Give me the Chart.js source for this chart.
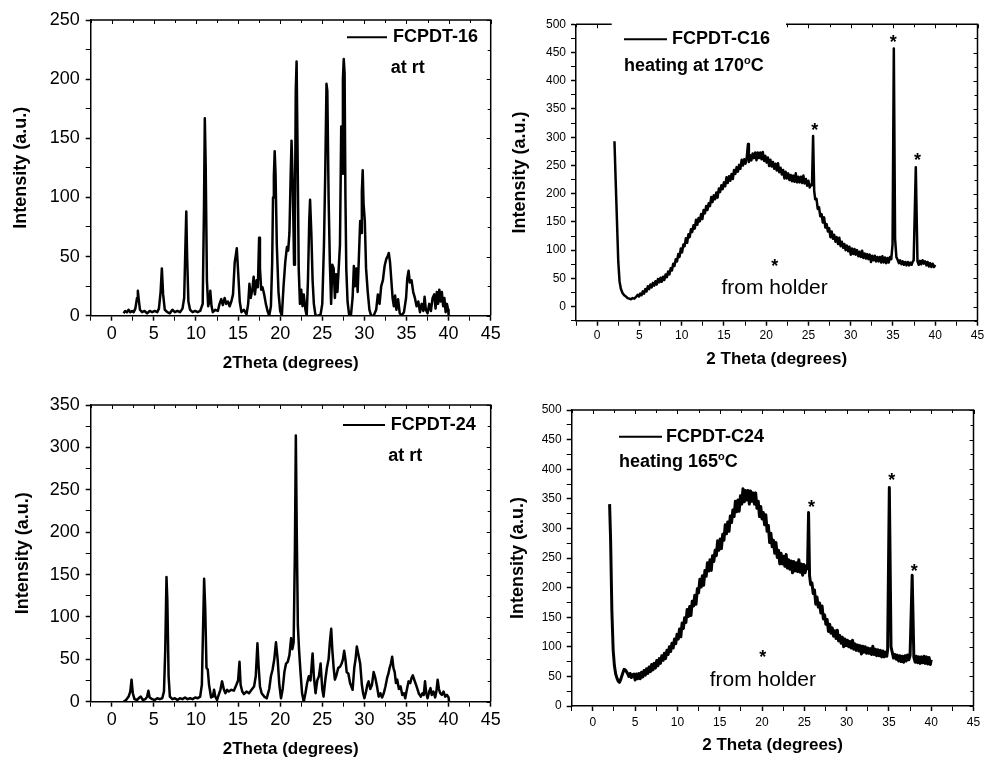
<!DOCTYPE html>
<html>
<head>
<meta charset="utf-8">
<title>XRD patterns of FCPDT-16 and FCPDT-24</title>
<script src="https://cdn.jsdelivr.net/npm/chart.js@4.4.1/dist/chart.umd.min.js"></script>
<style>
  html, body { margin: 0; padding: 0; background: #fff; }
  body { position: relative; width: 987px; height: 763px; overflow: hidden; }
  canvas { position: absolute; }
</style>
</head>
<body>
<canvas id="rt16"></canvas>
<canvas id="hot16"></canvas>
<canvas id="rt24"></canvas>
<canvas id="hot24"></canvas>
<script>
// ─── DATA  (2θ in degrees, intensity in a.u.)
const thetaLabels = [0, 5, 10, 15, 20, 25, 30, 35, 40, 45];
const rt16Labels = [0, 50, 100, 150, 200, 250];
const rt24Labels = [0, 50, 100, 150, 200, 250, 300, 350];
const hotLabels = [0, 50, 100, 150, 200, 250, 300, 350, 400, 450, 500];

// FCPDT-16 at room temperature
const rt16 = [
  [1.4, 2], [1.6, 4], [1.8, 3], [2.0, 5], [2.2, 3], [2.4, 4], [2.6, 3], [2.8, 6],
  [3.0, 15], [3.1, 21], [3.2, 14], [3.35, 5], [3.6, 3], [3.9, 4], [4.2, 2], [4.5, 4],
  [4.8, 3], [5.1, 4], [5.4, 3], [5.6, 6], [5.8, 20], [5.95, 40], [6.1, 18], [6.3, 5],
  [6.6, 3], [6.9, 2], [7.2, 5], [7.5, 3], [7.8, 4], [8.1, 3], [8.4, 6], [8.6, 15],
  [8.75, 60], [8.85, 88], [8.95, 50], [9.1, 12], [9.3, 5], [9.6, 3], [9.9, 4], [10.2, 3],
  [10.5, 4], [10.8, 10], [10.95, 90], [11.05, 167], [11.15, 130], [11.3, 30], [11.45, 8],
  [11.6, 12], [11.7, 21], [11.85, 8], [12.0, 3], [12.3, 5], [12.6, 4], [12.8, 10],
  [13.0, 14], [13.2, 9], [13.4, 15], [13.6, 10], [13.8, 12], [14.0, 8], [14.2, 12],
  [14.4, 18], [14.6, 45], [14.75, 52], [14.85, 57], [15.0, 38], [15.2, 12], [15.4, 3],
  [15.7, 5], [16.0, 1], [16.2, 10], [16.35, 27], [16.5, 15], [16.7, 22], [16.85, 33],
  [17.0, 18], [17.2, 30], [17.35, 24], [17.5, 66], [17.6, 40], [17.75, 22], [17.9, 24],
  [18.1, 18], [18.3, 10], [18.5, 4], [18.7, 0], [18.9, 8], [19.05, 45], [19.15, 100],
  [19.25, 118], [19.35, 139], [19.45, 120], [19.6, 60], [19.8, 20], [20.0, 4], [20.2, 0],
  [20.4, 25], [20.6, 45], [20.8, 58], [20.95, 55], [21.1, 70], [21.25, 120], [21.35, 148],
  [21.5, 110], [21.65, 43], [21.75, 80], [21.85, 190], [21.95, 215], [22.05, 150],
  [22.2, 40], [22.35, 10], [22.5, 22], [22.65, 8], [22.8, 18], [23.0, 5], [23.15, 0],
  [23.3, 30], [23.45, 80], [23.55, 98], [23.7, 70], [23.85, 30], [24.0, 10], [24.2, 0],
  [24.5, 0], [24.8, 1], [25.0, 10], [25.2, 60], [25.35, 120], [25.5, 196], [25.6, 190],
  [25.75, 100], [25.9, 45], [26.05, 10], [26.2, 43], [26.35, 40], [26.5, 15], [26.65, 35],
  [26.8, 20], [26.95, 40], [27.1, 60], [27.25, 160], [27.35, 120], [27.45, 200],
  [27.55, 217], [27.65, 205], [27.75, 100], [27.85, 40], [28.0, 12], [28.2, 0], [28.4, 0],
  [28.6, 15], [28.75, 42], [28.9, 25], [29.05, 40], [29.2, 20], [29.35, 50], [29.5, 80],
  [29.6, 70], [29.7, 105], [29.8, 123], [29.9, 95], [30.05, 80], [30.2, 40], [30.4, 20],
  [30.6, 5], [30.8, 0], [31.1, 0], [31.4, 5], [31.6, 18], [31.8, 10], [32.0, 25],
  [32.2, 30], [32.4, 42], [32.6, 48], [32.75, 50], [32.9, 53], [33.05, 45], [33.2, 30],
  [33.35, 15], [33.5, 8], [33.65, 17], [33.8, 5], [34.0, 14], [34.2, 2], [34.4, 0],
  [34.7, 3], [34.95, 15], [35.1, 32], [35.25, 38], [35.4, 28], [35.6, 30], [35.8, 20],
  [36.0, 15], [36.2, 8], [36.4, 12], [36.6, 3], [36.8, 10], [37.0, 4], [37.15, 16],
  [37.3, 5], [37.5, 2], [37.7, 10], [37.9, 4], [38.1, 15], [38.3, 18], [38.45, 6],
  [38.6, 20], [38.75, 10], [38.9, 22], [39.05, 12], [39.2, 20], [39.35, 8], [39.5, 15],
  [39.65, 3], [39.8, 10], [39.95, 5], [40.0, 0],
];

// FCPDT-C16 heated at 170 °C (the peaks near 25.5, 35.1 and 37.7 come from the holder)
const hot16 = [
  [2.05, 293], [2.2, 220], [2.35, 150], [2.5, 80], [2.65, 45], [2.8, 32], [3.0, 24],
  [3.2, 20], [3.4, 18], [3.6, 15], [3.8, 14], [4.0, 13], [4.2, 15], [4.4, 14], [4.6, 17],
  [4.8, 21], [4.95, 18], [5.1, 23], [5.25, 20], [5.4, 27], [5.55, 23], [5.7, 31], [5.85, 27],
  [6.0, 36], [6.15, 31], [6.3, 39], [6.45, 34], [6.6, 42], [6.75, 37], [6.9, 45], [7.05, 39],
  [7.2, 49], [7.35, 43], [7.5, 51], [7.65, 44], [7.8, 53], [7.95, 47], [8.1, 57], [8.25, 52],
  [8.4, 62], [8.55, 57], [8.7, 68], [8.85, 64], [9.0, 76], [9.15, 72], [9.3, 84], [9.45, 80],
  [9.6, 93], [9.75, 88], [9.9, 103], [10.05, 96], [10.2, 110], [10.35, 107], [10.5, 121],
  [10.65, 113], [10.8, 128], [10.95, 123], [11.1, 137], [11.25, 132], [11.4, 144],
  [11.55, 138], [11.7, 154], [11.85, 145], [12.0, 157], [12.15, 151], [12.3, 164],
  [12.45, 155], [12.6, 171], [12.75, 165], [12.9, 178], [13.05, 171], [13.2, 183],
  [13.35, 178], [13.5, 194], [13.65, 185], [13.8, 197], [13.95, 190], [14.1, 202],
  [14.25, 193], [14.4, 209], [14.55, 203], [14.7, 215], [14.85, 208], [15.0, 220],
  [15.15, 213], [15.3, 229], [15.45, 219], [15.6, 231], [15.75, 223], [15.9, 235],
  [16.05, 226], [16.2, 242], [16.35, 235], [16.5, 247], [16.65, 239], [16.8, 251],
  [16.95, 244], [17.1, 260], [17.25, 250], [17.4, 261], [17.55, 253], [17.7, 264],
  [17.85, 288], [17.95, 256], [18.1, 268], [18.25, 259], [18.4, 271], [18.55, 263],
  [18.7, 273], [18.85, 259], [19.0, 273], [19.15, 263], [19.3, 273], [19.45, 261],
  [19.6, 274], [19.75, 258], [19.9, 267], [20.05, 255], [20.2, 264], [20.35, 249],
  [20.5, 260], [20.65, 248], [20.8, 256], [20.95, 244], [21.1, 253], [21.25, 241],
  [21.4, 254], [21.55, 238], [21.7, 246], [21.85, 234], [22.0, 242], [22.15, 227],
  [22.3, 239], [22.45, 227], [22.6, 236], [22.75, 224], [22.9, 233], [23.05, 222],
  [23.2, 232], [23.35, 221], [23.5, 236], [23.65, 220], [23.8, 230], [23.95, 220],
  [24.1, 230], [24.25, 219], [24.4, 232], [24.55, 218], [24.7, 226], [24.85, 214],
  [25.0, 223], [25.15, 211], [25.3, 216], [25.42, 215], [25.55, 302], [25.68, 205],
  [25.8, 190], [25.95, 191], [26.1, 173], [26.25, 176], [26.4, 160], [26.55, 164],
  [26.7, 149], [26.85, 158], [27.0, 140], [27.15, 146], [27.3, 133], [27.45, 139],
  [27.6, 123], [27.75, 133], [27.9, 120], [28.05, 127], [28.2, 115], [28.35, 123],
  [28.5, 111], [28.65, 122], [28.8, 107], [28.95, 115], [29.1, 104], [29.25, 111],
  [29.4, 100], [29.55, 108], [29.7, 98], [29.85, 106], [30.0, 92], [30.15, 103],
  [30.3, 93], [30.45, 102], [30.6, 92], [30.75, 100], [30.9, 89], [31.05, 97], [31.2, 88],
  [31.35, 99], [31.5, 86], [31.65, 94], [31.8, 85], [31.95, 93], [32.1, 84], [32.25, 92],
  [32.4, 79], [32.55, 90], [32.7, 82], [32.85, 90], [33.0, 80], [33.15, 88], [33.3, 80],
  [33.45, 88], [33.6, 78], [33.75, 89], [33.9, 78], [34.05, 87], [34.2, 77], [34.35, 86],
  [34.5, 78], [34.65, 88], [34.8, 84], [34.95, 110], [35.1, 457], [35.25, 120], [35.4, 88],
  [35.55, 83], [35.7, 77], [35.85, 82], [36.0, 75], [36.15, 80], [36.3, 74], [36.45, 79],
  [36.6, 73], [36.75, 79], [36.9, 73], [37.05, 78], [37.2, 74], [37.35, 80], [37.45, 82],
  [37.7, 247], [37.9, 80], [38.05, 74], [38.2, 81], [38.35, 75], [38.5, 82], [38.65, 76],
  [38.8, 80], [38.95, 73], [39.1, 79], [39.25, 71], [39.4, 77], [39.55, 70], [39.7, 76],
  [39.85, 70], [40.0, 74],
];

// FCPDT-24 at room temperature
const rt24 = [
  [1.4, 0], [1.7, 2], [2.0, 6], [2.2, 12], [2.35, 26], [2.5, 10], [2.7, 3], [3.0, 2],
  [3.3, 5], [3.45, 6], [3.7, 2], [4.0, 3], [4.2, 6], [4.35, 13], [4.5, 5], [4.8, 3],
  [5.1, 2], [5.4, 4], [5.7, 3], [6.0, 4], [6.2, 12], [6.35, 60], [6.5, 147], [6.6, 120],
  [6.75, 30], [6.9, 6], [7.2, 3], [7.5, 4], [7.8, 2], [8.1, 4], [8.4, 3], [8.7, 5],
  [9.0, 3], [9.3, 4], [9.6, 3], [9.9, 5], [10.2, 4], [10.5, 6], [10.7, 20], [10.85, 90],
  [10.97, 145], [11.1, 110], [11.25, 40], [11.4, 38], [11.55, 20], [11.8, 5], [12.0, 6],
  [12.15, 14], [12.3, 6], [12.5, 2], [12.7, 8], [12.9, 14], [13.1, 24], [13.3, 15],
  [13.5, 10], [13.7, 14], [13.9, 12], [14.2, 14], [14.5, 13], [14.8, 20], [15.0, 25],
  [15.17, 47], [15.3, 20], [15.5, 12], [15.7, 9], [16.0, 12], [16.3, 10], [16.6, 14],
  [16.9, 18], [17.1, 30], [17.3, 69], [17.45, 40], [17.6, 18], [17.8, 10], [18.1, 6],
  [18.4, 4], [18.7, 15], [18.9, 30], [19.1, 38], [19.3, 50], [19.5, 70], [19.7, 50],
  [19.9, 20], [20.1, 4], [20.3, 15], [20.5, 35], [20.7, 45], [20.9, 47], [21.1, 55],
  [21.3, 75], [21.45, 62], [21.6, 70], [21.75, 180], [21.86, 314], [21.97, 200], [22.1, 90],
  [22.25, 60], [22.4, 37], [22.6, 10], [22.8, 0], [23.0, 10], [23.2, 22], [23.4, 30],
  [23.6, 25], [23.85, 57], [24.0, 30], [24.2, 10], [24.4, 25], [24.6, 30], [24.8, 45],
  [25.0, 15], [25.15, 6], [25.35, 25], [25.55, 40], [25.75, 50], [25.9, 70], [26.06, 86],
  [26.2, 60], [26.35, 40], [26.5, 26], [26.7, 32], [26.9, 40], [27.1, 41], [27.3, 45],
  [27.45, 50], [27.6, 60], [27.75, 50], [27.9, 35], [28.1, 33], [28.3, 22], [28.45, 18],
  [28.6, 14], [28.8, 40], [28.95, 50], [29.1, 65], [29.3, 55], [29.5, 45], [29.7, 20],
  [29.85, 10], [30.0, 4], [30.2, 12], [30.35, 20], [30.5, 24], [30.7, 15], [30.9, 20],
  [31.1, 35], [31.3, 28], [31.5, 18], [31.7, 6], [31.9, 10], [32.1, 5], [32.3, 10],
  [32.5, 18], [32.7, 28], [32.85, 33], [33.0, 40], [33.15, 45], [33.3, 53], [33.45, 40],
  [33.6, 35], [33.75, 22], [33.9, 26], [34.1, 15], [34.3, 18], [34.5, 8], [34.7, 10],
  [34.85, 4], [35.0, 12], [35.25, 24], [35.45, 22], [35.6, 28], [35.75, 31], [35.95, 25],
  [36.2, 18], [36.45, 10], [36.7, 6], [36.9, 10], [37.05, 8], [37.2, 24], [37.35, 10],
  [37.5, 4], [37.7, 12], [37.85, 16], [38.0, 8], [38.2, 12], [38.4, 5], [38.55, 12],
  [38.7, 26], [38.85, 15], [39.0, 10], [39.2, 8], [39.4, 12], [39.6, 6], [39.8, 8],
  [40.0, 5], [40.05, 0],
];

// FCPDT-C24 heated at 165 °C
const hot24 = [
  [1.98, 341], [2.1, 280], [2.25, 160], [2.4, 95], [2.55, 68], [2.7, 54], [2.85, 47],
  [3.0, 42], [3.15, 40], [3.3, 45], [3.5, 54], [3.7, 62], [3.9, 60], [4.1, 55], [4.25, 50],
  [4.4, 55], [4.55, 48], [4.7, 53], [4.85, 54], [5.0, 44], [5.15, 54], [5.3, 46], [5.45, 55],
  [5.6, 46], [5.75, 57], [5.9, 49], [6.05, 60], [6.2, 52], [6.35, 63], [6.5, 55], [6.65, 66],
  [6.8, 58], [6.95, 70], [7.1, 61], [7.25, 72], [7.4, 64], [7.55, 77], [7.7, 68], [7.85, 80],
  [8.0, 72], [8.15, 85], [8.3, 77], [8.45, 89], [8.6, 80], [8.75, 94], [8.9, 87], [9.05, 100],
  [9.2, 92], [9.35, 106], [9.5, 98], [9.65, 113], [9.8, 105], [9.95, 121], [10.1, 113],
  [10.25, 130], [10.4, 117], [10.55, 140], [10.7, 131], [10.85, 149], [11.0, 141],
  [11.15, 163], [11.3, 151], [11.45, 168], [11.6, 153], [11.75, 177], [11.9, 169],
  [12.05, 187], [12.2, 172], [12.35, 198], [12.5, 191], [12.65, 214], [12.8, 201],
  [12.95, 220], [13.1, 204], [13.25, 229], [13.4, 219], [13.55, 242], [13.7, 228],
  [13.85, 247], [14.0, 229], [14.15, 254], [14.3, 244], [14.45, 263], [14.6, 254],
  [14.75, 279], [14.9, 263], [15.05, 282], [15.2, 266], [15.35, 290], [15.5, 280],
  [15.65, 306], [15.8, 291], [15.95, 311], [16.1, 295], [16.25, 321], [16.4, 310],
  [16.55, 331], [16.7, 320], [16.85, 346], [17.0, 328], [17.15, 348], [17.3, 329],
  [17.45, 355], [17.6, 341], [17.75, 367], [17.9, 345], [18.05, 364], [18.2, 348],
  [18.35, 364], [18.5, 341], [18.65, 363], [18.8, 346], [18.95, 360], [19.1, 341],
  [19.25, 360], [19.4, 334], [19.55, 346], [19.7, 320], [19.85, 337], [20.0, 316],
  [20.15, 327], [20.3, 306], [20.45, 323], [20.6, 295], [20.75, 305], [20.9, 276],
  [21.05, 292], [21.2, 269], [21.35, 280], [21.5, 258], [21.65, 276], [21.8, 251],
  [21.95, 263], [22.1, 240], [22.25, 258], [22.4, 240], [22.55, 253], [22.7, 236],
  [22.85, 256], [23.0, 233], [23.15, 247], [23.3, 231], [23.45, 245], [23.6, 225],
  [23.75, 244], [23.9, 228], [24.05, 242], [24.2, 227], [24.35, 247], [24.5, 226],
  [24.65, 240], [24.8, 221], [24.95, 239], [25.1, 225], [25.25, 237], [25.38, 232],
  [25.5, 327], [25.62, 220], [25.75, 205], [25.9, 208], [26.05, 190], [26.2, 196],
  [26.35, 172], [26.5, 184], [26.65, 167], [26.8, 174], [26.95, 157], [27.1, 169],
  [27.25, 147], [27.4, 154], [27.55, 138], [27.7, 146], [27.85, 126], [28.0, 138],
  [28.15, 123], [28.3, 132], [28.45, 118], [28.6, 127], [28.75, 114], [28.9, 128],
  [29.05, 110], [29.2, 119], [29.35, 106], [29.5, 116], [29.65, 100], [29.8, 113],
  [29.95, 102], [30.1, 111], [30.25, 100], [30.4, 109], [30.55, 98], [30.7, 111],
  [30.85, 96], [31.0, 105], [31.15, 94], [31.3, 103], [31.45, 93], [31.6, 102], [31.75, 88],
  [31.9, 101], [32.05, 91], [32.2, 100], [32.35, 89], [32.5, 98], [32.65, 89], [32.8, 97],
  [32.95, 87], [33.1, 101], [33.25, 87], [33.4, 96], [33.55, 85], [33.7, 95], [33.85, 85],
  [34.0, 94], [34.15, 83], [34.3, 93], [34.45, 83], [34.6, 91], [34.75, 84], [34.85, 95],
  [35.05, 369], [35.25, 100], [35.4, 90], [35.55, 81], [35.7, 87], [35.85, 79], [36.0, 86],
  [36.15, 76], [36.3, 85], [36.45, 75], [36.6, 84], [36.75, 74], [36.9, 85], [37.05, 76],
  [37.2, 86], [37.35, 78], [37.5, 85], [37.75, 221], [37.95, 82], [38.1, 74], [38.25, 84],
  [38.4, 73], [38.55, 83], [38.7, 72], [38.85, 83], [39.0, 73], [39.15, 84], [39.3, 72],
  [39.45, 83], [39.6, 71], [39.75, 82], [39.9, 70], [40.0, 78],
];

const FONT = "'Liberation Sans', Arial, Helvetica, sans-serif";

// ─── PANEL DECORATIONS: closed frame, inner ticks, key line and notes
function panelNotes(notes) {
  return {
    id: "panelNotes",
    afterDatasetsDraw(chart) {
      const { ctx, chartArea: a } = chart;
      const { x, y } = chart.scales;
      ctx.save();

      ctx.strokeStyle = "#000";
      ctx.lineWidth = 1.5;
      ctx.beginPath();
      ctx.moveTo(a.left, a.top);
      ctx.lineTo(a.right, a.top);
      ctx.lineTo(a.right, a.bottom);
      ctx.stroke();

      ctx.lineWidth = 1;
      ctx.beginPath();
      x.ticks.forEach((t) => {
        const px = Math.round(x.getPixelForValue(t.value)) + 0.5;
        const len = thetaLabels.includes(t.value) ? 4 : 3;
        ctx.moveTo(px, a.top);
        ctx.lineTo(px, a.top + len);
      });
      y.ticks.forEach((t) => {
        const py = Math.round(y.getPixelForValue(t.value)) + 0.5;
        const len = t.value % 50 === 0 ? 4 : 3;
        ctx.moveTo(a.right, py);
        ctx.lineTo(a.right - len, py);
      });
      ctx.stroke();

      if (notes.box) {
        const [bx, by, bw, bh] = notes.box;
        ctx.fillStyle = "#fff";
        ctx.fillRect(a.left + bx, a.top + by, bw, bh);
      }

      // key
      const k = notes.key;
      ctx.lineWidth = 2;
      ctx.beginPath();
      ctx.moveTo(a.left + k.x0, a.top + k.y);
      ctx.lineTo(a.left + k.x1, a.top + k.y);
      ctx.stroke();

      ctx.fillStyle = "#000";
      ctx.textAlign = "left";
      ctx.textBaseline = "middle";
      ctx.font = `bold 18px ${FONT}`;
      ctx.fillText(k.text, a.left + k.tx, a.top + k.y);

      // caption under the key; a "^" part is raised
      let cx = a.left + notes.caption.x;
      const cy = a.top + notes.caption.y;
      notes.caption.parts.forEach((p) => {
        if (p.startsWith("^")) {
          ctx.font = `bold 11px ${FONT}`;
          ctx.fillText(p.slice(1), cx, cy - 5);
          cx += ctx.measureText(p.slice(1)).width;
        } else {
          ctx.font = `bold 18px ${FONT}`;
          ctx.fillText(p, cx, cy);
          cx += ctx.measureText(p).width;
        }
      });

      // asterisks and remarks placed in data units
      ctx.textAlign = "center";
      (notes.marks || []).forEach((m) => {
        const px = x.getPixelForValue(m.at[0]);
        const py = y.getPixelForValue(m.at[1]);
        if (m.text === "*") {
          ctx.font = `bold 18px ${FONT}`;
          ctx.textBaseline = "alphabetic";
          ctx.fillText("*", px, py + 10.4);
        } else {
          ctx.font = `21px ${FONT}`;
          ctx.textBaseline = "middle";
          ctx.fillText(m.text, px, py);
        }
      });
      ctx.restore();
    },
  };
}

function panel(id, cfg) {
  const cv = document.getElementById(id);
  cv.width = cfg.w;
  cv.height = cfg.h;
  cv.style.left = cfg.left + "px";
  cv.style.top = cfg.top + "px";

  const tickFont = { family: FONT, size: cfg.tickSize };

  return new Chart(cv, {
    type: "line",
    data: {
      datasets: [
        {
          label: cfg.notes.key.text,
          data: cfg.points.map(([t, c]) => ({ x: t, y: c })),
          borderColor: "#000",
          borderWidth: cfg.lineWidth,
          borderJoinStyle: "round",
          pointRadius: 0,
          tension: 0,
        },
      ],
    },
    options: {
      responsive: false,
      animation: false,
      devicePixelRatio: 1,
      layout: { padding: { top: cfg.padTop, right: cfg.padRight, left: 0, bottom: 0 } },
      plugins: { legend: { display: false }, tooltip: { enabled: false } },
      scales: {
        x: {
          type: "linear",
          min: -2.5,
          max: 45,
          afterFit: (s) => {
            s.height = cfg.xHeight;
            s.paddingLeft = 0;
            s.paddingRight = 0;
          },
          ticks: {
            stepSize: 2.5,
            autoSkip: false,
            maxRotation: 0,
            padding: cfg.xPad,
            color: "#000",
            font: tickFont,
            callback: (v) => (thetaLabels.includes(v) ? String(v) : ""),
          },
          grid: {
            drawOnChartArea: false,
            tickLength: 5,
            color: "#000",
            tickWidth: (c) => (c.tick && thetaLabels.includes(c.tick.value) ? 1.5 : 1),
          },
          border: { color: "#000", width: 1.5 },
          title: {
            display: true,
            text: cfg.xTitle,
            color: "#000",
            font: { family: FONT, size: 17, weight: "bold" },
            padding: { top: 0, bottom: 0 },
          },
        },
        y: {
          min: cfg.yMin,
          max: cfg.yMax,
          afterFit: (s) => {
            s.width = cfg.yWidth;
            s.paddingTop = 0;
            s.paddingBottom = 0;
          },
          ticks: {
            stepSize: 25,
            autoSkip: false,
            padding: cfg.yPad,
            color: "#000",
            font: tickFont,
            callback: (v) => (cfg.yLabels.includes(v) ? String(v) : ""),
          },
          grid: {
            drawOnChartArea: false,
            tickLength: 5,
            color: "#000",
            tickWidth: (c) => (c.tick && cfg.yLabels.includes(c.tick.value) ? 1.5 : 1),
          },
          border: { color: "#000", width: 1.5 },
          title: {
            display: true,
            text: "Intensity (a.u.)",
            color: "#000",
            font: { family: FONT, size: 18, weight: "bold" },
            padding: { top: cfg.yTitlePad, bottom: 0 },
          },
        },
      },
    },
    plugins: [panelNotes(cfg.notes)],
  });
}

// ─── TOP LEFT: FCPDT-16 at rt
panel("rt16", {
  left: 0, top: 0, w: 505, h: 374,
  padTop: 20, padRight: 14.3, yWidth: 90.7, xHeight: 58.3,
  xPad: 3, yPad: 6, yTitlePad: 10.5, tickSize: 18, lineWidth: 2.5,
  yMin: 0, yMax: 250, yLabels: rt16Labels,
  xTitle: "2Theta (degrees)",
  points: rt16,
  notes: {
    key: { x0: 256.3, x1: 296.3, y: 17.3, tx: 302.3, text: "FCPDT-16" },
    caption: { x: 300, y: 48.3, parts: ["at rt"] },
  },
});

// ─── TOP RIGHT: FCPDT-C16 heated at 170 °C
panel("hot16", {
  left: 495, top: 0, w: 492, h: 370,
  padTop: 24.3, padRight: 9.5, yWidth: 81, xHeight: 49.3,
  xPad: 3, yPad: 5, yTitlePad: 13.8, tickSize: 12, lineWidth: 2.5,
  yMin: -25, yMax: 500, yLabels: hotLabels,
  xTitle: "2 Theta (degrees)",
  points: hot16,
  notes: {
    box: [35.7, -4, 174.3, 58],
    key: { x0: 48, x1: 91, y: 15, tx: 96, text: "FCPDT-C16" },
    caption: { x: 48, y: 41.4, parts: ["heating at 170", "^o", "C"] },
    marks: [
      { at: [35.02, 476], text: "*" },
      { at: [25.75, 321], text: "*" },
      { at: [37.9, 267], text: "*" },
      { at: [21.0, 80], text: "*" },
      { at: [21.0, 33], text: "from holder" },
    ],
  },
});

// ─── BOTTOM LEFT: FCPDT-24 at rt
panel("rt24", {
  left: 0, top: 380, w: 505, h: 380,
  padTop: 25, padRight: 14.3, yWidth: 90.7, xHeight: 58.3,
  xPad: 2.5, yPad: 6, yTitlePad: 12.2, tickSize: 18, lineWidth: 2.5,
  yMin: 0, yMax: 350, yLabels: rt24Labels,
  xTitle: "2Theta (degrees)",
  points: rt24,
  notes: {
    key: { x0: 252.3, x1: 294.3, y: 20, tx: 300, text: "FCPDT-24" },
    caption: { x: 297.6, y: 51, parts: ["at rt"] },
  },
});

// ─── BOTTOM RIGHT: FCPDT-C24 heated at 165 °C
panel("hot24", {
  left: 495, top: 380, w: 492, h: 376,
  padTop: 30, padRight: 13.5, yWidth: 76.7, xHeight: 50,
  xPad: 4.5, yPad: 5, yTitlePad: 12.2, tickSize: 12, lineWidth: 3,
  yMin: 0, yMax: 500, yLabels: hotLabels,
  xTitle: "2 Theta (degrees)",
  points: hot24,
  notes: {
    key: { x0: 47.3, x1: 90.3, y: 26.7, tx: 94.3, text: "FCPDT-C24" },
    caption: { x: 47.3, y: 51.7, parts: ["heating 165", "^o", "C"] },
    marks: [
      { at: [35.33, 388.5], text: "*" },
      { at: [25.85, 343], text: "*" },
      { at: [38.0, 235], text: "*" },
      { at: [20.1, 90], text: "*" },
      { at: [20.1, 44], text: "from holder" },
    ],
  },
});
</script>
</body>
</html>
